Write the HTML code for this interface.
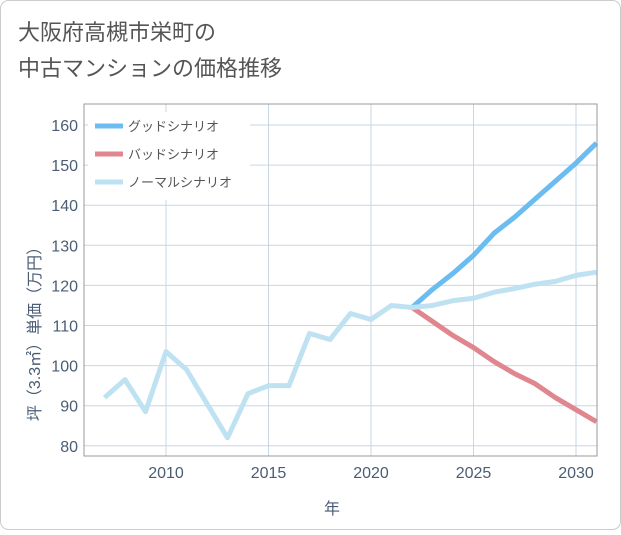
<!DOCTYPE html>
<html><head><meta charset="utf-8"><style>
body{margin:0;background:#fff;}
#wrap{position:relative;width:621px;height:530px;}
.t{font-family:"Liberation Sans","Noto Sans CJK JP",sans-serif;}
</style></head><body>
<div id="wrap">
<svg id="svg" width="621" height="530" xmlns="http://www.w3.org/2000/svg">
<rect x="0.5" y="0.5" width="620" height="529" rx="8" fill="#fff" stroke="#ccc"/>
<text class="t" x="18" y="40" font-size="22" fill="#555">大阪府高槻市栄町の</text>
<text class="t" x="18" y="76" font-size="22" fill="#555">中古マンションの価格推移</text>
<g id="grid"></g>
<g id="lines"></g>
<rect x="84" y="104" width="513" height="352" fill="none" stroke="#999"/>
<g id="axes"></g>
<g>
<rect x="88" y="112" width="162" height="88" fill="#fff"/>
<line x1="95" y1="126" x2="123" y2="126" stroke="#6bbcf0" stroke-width="5"/>
<text class="t" x="128" y="131" font-size="13" fill="#555">グッドシナリオ</text>
<line x1="95" y1="154" x2="123" y2="154" stroke="#e0868f" stroke-width="5"/>
<text class="t" x="128" y="159" font-size="13" fill="#555">バッドシナリオ</text>
<line x1="95" y1="182" x2="123" y2="182" stroke="#bfe2f2" stroke-width="5"/>
<text class="t" x="128" y="187" font-size="13" fill="#555">ノーマルシナリオ</text>
</g>
<text class="t" transform="translate(40,330) rotate(-90)" text-anchor="middle" font-size="16" fill="#4a5d75">坪（3.3㎡）単価（万円）</text>
<text class="t" x="332" y="514" text-anchor="middle" font-size="16" fill="#4a5d75">年</text>
</svg>
</div>
<script>
const yTicks=[80,90,100,110,120,130,140,150,160];
const xTicks=[2010,2015,2020,2025,2030];
const normalYears=[2007,2008,2009,2010,2011,2012,2013,2014,2015,2016,2017,2018,2019,2020,2021,2022,2023,2024,2025,2026,2027,2028,2029,2030,2031];
const normalVals=[92,96.5,88.5,103.5,99,90.5,82,93,95,95,108,106.5,113,111.5,115,114.5,115,116.2,116.8,118.3,119.2,120.3,121,122.5,123.3];
const scenYears=[2022,2023,2024,2025,2026,2027,2028,2029,2030,2031];
const goodVals=[114.5,119,123,127.5,133,137,141.5,146,150.5,155.5];
const badVals=[114.5,111,107.5,104.5,101,98,95.5,92,89,86];
const NS='http://www.w3.org/2000/svg';
const xs=y=>166+(y-2010)*20.5;
const ys=v=>125+(160-v)*4.01;
const grid=document.getElementById('grid'),axes=document.getElementById('axes'),lines=document.getElementById('lines');
function mk(tag,attrs,parent){const e=document.createElementNS(NS,tag);for(const k in attrs)e.setAttribute(k,attrs[k]);parent.appendChild(e);return e;}
yTicks.forEach(v=>{
 const l=mk('line',{x1:84,x2:597,y1:ys(v),y2:ys(v),stroke:'#c8d6e4'},grid);
 
 
 const t=mk('text',{x:78,y:ys(v)+6,'text-anchor':'end','font-size':16,fill:'#4a5d75',class:'t'},axes);
 t.textContent=v;
 
 
});
xTicks.forEach(v=>{
 const l=mk('line',{x1:xs(v),x2:xs(v),y1:104,y2:456,stroke:'#c8d6e4'},grid);
 
 
 const t=mk('text',{x:xs(v),y:478,'text-anchor':'middle','font-size':16,fill:'#4a5d75',class:'t'},axes);
 t.textContent=v;
 
 
});
function line(years,vals,color,name){
 const p=mk('polyline',{points:years.map((y,i)=>xs(y)+','+ys(vals[i])).join(' '),fill:'none',stroke:color,'stroke-width':5,'stroke-linejoin':'round'},lines);
 
 
}
line(scenYears,goodVals,'#6bbcf0','good-scenario-line');
line(scenYears,badVals,'#e0868f','bad-scenario-line');
line(normalYears,normalVals,'#bfe2f2','normal-scenario-line');
</script>
</body></html>
